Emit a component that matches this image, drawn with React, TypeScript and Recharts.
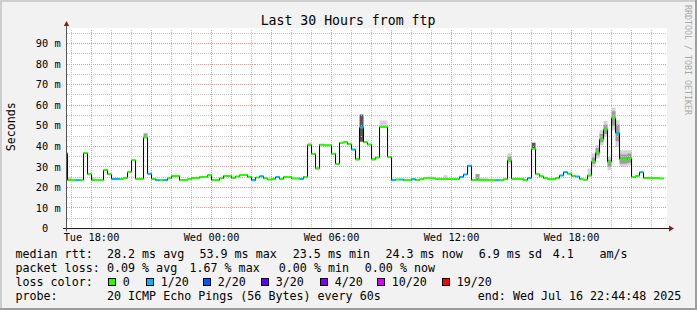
import React from 'react';
import { ComposedChart, Line, Area, XAxis, YAxis, ReferenceLine } from 'recharts';

const W = 697;
const H = 310;
const MONO = '"DejaVu Sans Mono", "Liberation Mono", monospace';

// ---- data: one sample every 12 minutes (0.2 h), hours since Tue 00:00 ----
const sampleStartHour = 16.6;
const sampleStepHours = 0.2;
const domainStart = 16.747;
const domainEnd = 46.747;

const medianMs = [
  36.6, 23.5, 23.5, 23.5, 23.5, 36.7, 26.4, 23.5, 23.5, 23.5,
  28.4, 26.4, 24.1, 24.1, 24.1, 24.6, 27.5, 33.2, 24.1, 24.1,
  44.3, 26.6, 24.1, 23.5, 23.5, 23.5, 24.4, 25.6, 25.6, 23.5,
  23.5, 24.0, 24.5, 24.5, 25.1, 25.1, 25.9, 23.5, 23.5, 24.4,
  25.6, 25.6, 24.6, 25.3, 26.0, 26.0, 25.1, 23.5, 24.8, 25.4,
  24.4, 23.8, 24.1, 25.0, 24.1, 25.1, 25.1, 24.3, 24.3, 24.1,
  25.1, 40.7, 36.3, 29.2, 40.8, 40.5, 40.5, 36.4, 31.4, 41.7,
  42.0, 41.0, 38.4, 33.7, 49.1, 42.0, 40.9, 33.7, 34.5, 49.4,
  49.4, 34.8, 23.5, 23.8, 23.8, 23.5, 23.5, 24.0, 23.5, 24.0,
  24.4, 24.4, 24.4, 24.1, 24.1, 24.1, 24.1, 24.1, 24.1, 25.1,
  26.3, 30.5, 23.5, 23.5, 23.5, 23.5, 23.5, 23.5, 23.5, 23.5,
  24.0, 33.2, 24.1, 24.1, 24.1, 23.5, 24.5, 38.7, 26.4, 25.4,
  24.5, 24.0, 24.0, 24.5, 25.8, 27.4, 26.6, 25.6, 25.3, 24.0,
  23.7, 25.8, 32.6, 36.8, 43.4, 48.2, 32.3, 53.8, 46.5, 33.7,
  33.7, 34.2, 25.0, 25.6, 27.4, 24.5, 24.5, 24.5, 24.5, 24.3,
];

// index into lossLabels / lossColors
const lossIdx = [
  1, 0, 0, 1, 0, 0, 0, 0, 0, 0,
  0, 0, 1, 1, 0, 0, 0, 0, 0, 0,
  0, 1, 0, 1, 0, 1, 0, 0, 0, 0,
  0, 0, 0, 0, 0, 0, 0, 0, 0, 0,
  0, 0, 0, 0, 0, 0, 0, 1, 0, 1,
  0, 0, 0, 1, 0, 0, 0, 0, 0, 1,
  0, 0, 0, 0, 0, 0, 0, 0, 0, 0,
  0, 0, 1, 0, 1, 0, 0, 0, 0, 0,
  0, 0, 1, 0, 1, 0, 0, 1, 0, 0,
  0, 0, 0, 0, 0, 0, 0, 0, 0, 1,
  1, 1, 0, 0, 0, 0, 0, 0, 1, 0,
  0, 0, 0, 0, 0, 0, 1, 0, 0, 0,
  0, 0, 0, 0, 1, 1, 0, 0, 1, 0,
  0, 0, 0, 0, 0, 0, 0, 0, 1, 0,
  0, 0, 0, 0, 1, 0, 0, 0, 0, 0,
];

const lossLabels = ['0', '1/20', '2/20', '3/20', '4/20', '10/20', '19/20'];
const lossColors = ['#26ff00', '#00b8ff', '#0059ff', '#5e00ff', '#7e00ff', '#dd00ff', '#ff0000'];

// visible "smoke" (ping spread) for samples where it shows
const smokeHours = [
  16.8, 18.0, 20.6, 28.8, 29.2, 31.2, 31.4, 32.0, 32.4, 32.6,
  35.6, 37.2, 37.4, 37.6, 38.8, 38.8, 40.0, 42.8, 43.0, 43.0,
  43.2, 43.2, 43.4, 43.4, 43.6, 43.6, 43.8, 43.8, 44.0, 44.0,
  44.2, 44.2, 44.4, 44.4, 44.6, 44.6, 44.8, 44.8,
];
const smokeLow = [
  23.5, 23.5, 44.0, 40.7, 28.6, 32.6, 42.2, 32.8, 49.4, 49.4,
  24.1, 23.5, 23.5, 23.5, 31.5, 32.3, 38.7, 25.0, 30.0, 31.5,
  34.0, 35.5, 40.5, 42.0, 44.6, 46.0, 28.4, 30.0, 47.8, 50.0,
  39.7, 42.5, 30.0, 31.5, 30.0, 31.5, 30.7, 32.0,
];
const smokeHigh = [
  24.9, 24.9, 46.3, 41.8, 29.8, 34.6, 55.5, 34.4, 52.5, 52.5,
  25.9, 26.5, 24.8, 24.8, 36.6, 35.0, 41.7, 29.2, 36.5, 34.5,
  40.5, 39.0, 47.8, 46.0, 52.3, 50.5, 34.8, 33.5, 58.9, 57.0,
  52.7, 50.5, 38.1, 36.0, 38.1, 36.0, 38.1, 36.5,
];
const smokeTone = [
  'light', 'light', 'mid', 'light', 'light', 'light', 'dark', 'light', 'light', 'light',
  'light', 'mid', 'light', 'light', 'light', 'mid', 'dark', 'light', 'light', 'mid',
  'light', 'mid', 'light', 'mid', 'light', 'mid', 'light', 'mid', 'light', 'mid',
  'light', 'mid', 'light', 'mid', 'light', 'mid', 'light', 'mid',
];
const tones = ['light', 'mid', 'dark'];
const toneColors: Record<string, string> = { light: '#d4d4d4', mid: '#9c9c9c', dark: '#565656' };

// axes / grid
const xTicks = [18, 24, 30, 36, 42];
const xTickLabels = ['Tue 18:00', 'Wed 00:00', 'Wed 06:00', 'Wed 12:00', 'Wed 18:00'];
const yTicks = [0, 10, 20, 30, 40, 50, 60, 70, 80, 90];
const minorHours = [17, 19, 20, 22, 23, 25, 26, 28, 29, 31, 32, 34, 35, 37, 38, 40, 41, 43, 44, 46];
const majorHours = [18, 21, 24, 27, 30, 33, 36, 39, 42, 45];
const minorMs = [5, 15, 25, 35, 45, 55, 65, 75, 85, 95];
const majorMs = [10, 20, 30, 40, 50, 60, 70, 80, 90];
const minorGridColor = '#c4c4c4';
const majorGridColor = '#eb9a9a';

// legend content
const titleText = 'Last 30 Hours from ftp';
const rttStats = ['28.2 ms avg', '53.9 ms max', '23.5 ms min', '24.3 ms now', '6.9 ms sd', '4.1', 'am/s'];
const lossStats = ['0.09 % avg', '1.67 % max', '0.00 % min', '0.00 % now'];
const probeText = '20 ICMP Echo Pings (56 Bytes) every 60s';
const endText = 'end: Wed Jul 16 22:44:48 2025';

// ---- table for the library ----
type Row = Record<string, any>;
const rows: Row[] = [];
medianMs.forEach((v, i) => {
  const t0 = +(sampleStartHour + i * sampleStepHours).toFixed(4);
  const t1 = +(t0 + sampleStepHours).toFixed(4);
  const base: Row = { med: v };
  lossColors.forEach((_, k) => {
    base['c' + k] = lossIdx[i] === k ? v : null;
  });
  tones.forEach((tone) => {
    const j = smokeHours.findIndex((h, jj) => Math.abs(h - t0) < 1e-6 && smokeTone[jj] === tone);
    base['s_' + tone] = j >= 0 ? [smokeLow[j], smokeHigh[j]] : null;
  });
  rows.push({ t: t0, ...base }, { t: t1, ...base });
  const gap: Row = { t: t1, med: v };
  lossColors.forEach((_, k) => {
    gap['c' + k] = null;
  });
  tones.forEach((tone) => {
    gap['s_' + tone] = null;
  });
  rows.push(gap);
});

const XTick = (props: any) => {
  const { x, payload } = props;
  const idx = xTicks.indexOf(payload.value);
  return (
    <text x={x} y={240.8} textAnchor="middle" fontFamily={MONO} fontSize={10.3} fill="#000">
      {idx >= 0 ? xTickLabels[idx] : ''}
    </text>
  );
};

const YTick = (props: any) => {
  const { y, payload } = props;
  const v = payload.value;
  const label = v === 0 ? '0' : `${v} m`;
  return (
    <text x={v === 0 ? 48.2 : 60.6} y={y + 3.7} textAnchor="end" fontFamily={MONO} fontSize={10.3} fill="#000">
      {label}
    </text>
  );
};

const LEG = 11.66;
const legendX1 = [107, 199.5, 292.8, 385.5, 478.8, 552.8, 599.5];
const legendX2 = [107, 189.5, 278.8, 364.8];
const boxX = [108.5, 146.5, 203.5, 261.5, 320.5, 377.5, 442.5];

const Backdrop = () => (
  <svg width={W} height={H} style={{ position: 'absolute', left: 0, top: 0 }}>
    <rect x={0} y={0} width={W} height={H} fill="#f2f2f2" />
    <rect x={0} y={0} width={W} height={2} fill="#cecece" />
    <rect x={0} y={0} width={2} height={H} fill="#cecece" />
    <rect x={0} y={H - 2} width={W} height={2} fill="#9e9e9e" />
    <rect x={W - 2} y={0} width={2} height={H} fill="#9e9e9e" />
    <rect x={66.5} y={28} width={600.5} height={200.5} fill="#ffffff" />
    <text x={348} y={24.6} textAnchor="middle" fontFamily={MONO} fontSize={13.2} fill="#000">
      {titleText}
    </text>
    <text x={15} y={126.7} textAnchor="middle" fontFamily={MONO} fontSize={LEG} fill="#000" transform="rotate(-90 15 126.7)">
      Seconds
    </text>
    <text x={685} y={5} fontFamily={MONO} fontSize={8.3} fill="#a8a8a8" transform="rotate(90 685 5)">
      RRDTOOL / TOBI OETIKER
    </text>
    {/* axis extensions and arrows */}
    <line x1={63} y1={228.5} x2={669} y2={228.5} stroke="#1f1f1f" strokeWidth={1} />
    <line x1={66.5} y1={231.5} x2={66.5} y2={25} stroke="#555" strokeWidth={1} />
    <polygon points="63.8,26 69.2,26 66.5,21" fill="#801f1f" />
    <polygon points="669,225.6 669,231.4 674,228.5" fill="#801f1f" />
    {/* legend */}
    <g fontFamily={MONO} fontSize={LEG} fill="#000" style={{ whiteSpace: 'pre' }}>
      <text x={15.5} y={258.3}>median rtt:</text>
      {rttStats.map((s, i) => (
        <text key={'r' + i} x={legendX1[i]} y={258.3}>{s}</text>
      ))}
      <text x={15.5} y={272.2}>packet loss:</text>
      {lossStats.map((s, i) => (
        <text key={'l' + i} x={legendX2[i]} y={272.2}>{s}</text>
      ))}
      <text x={15.5} y={286.1}>loss color:</text>
      {lossLabels.map((s, i) => (
        <g key={'b' + i}>
          <rect x={boxX[i]} y={278.5} width={7} height={7} fill={lossColors[i]} stroke="#000" strokeWidth={1} />
          <text x={boxX[i] + 14.3} y={286.1}>{s}</text>
        </g>
      ))}
      <text x={15.5} y={300}>probe:</text>
      <text x={107} y={300}>{probeText}</text>
      <text x={477.8} y={300}>{endText}</text>
    </g>
  </svg>
);

export default function App() {
  return (
    <div style={{ position: 'absolute', left: 0, top: 0, width: W, height: H, overflow: 'hidden' }}>
      <Backdrop />
      <div style={{ position: 'absolute', left: 0, top: 0 }}>
        <ComposedChart width={W} height={H} data={rows} margin={{ top: 28.5, right: 30.5, bottom: 0, left: 0 }}>
          <XAxis
            dataKey="t"
            type="number"
            domain={[domainStart, domainEnd]}
            allowDataOverflow
            ticks={xTicks}
            tick={<XTick />}
            tickLine={false}
            axisLine={{ stroke: '#1f1f1f' }}
            height={81.5}
            interval={0}
          />
          <YAxis
            type="number"
            domain={[0, 97.3]}
            allowDataOverflow
            ticks={yTicks}
            tick={<YTick />}
            tickLine={false}
            axisLine={{ stroke: '#555' }}
            width={66.5}
            interval={0}
          />
          {minorHours.map((h) => (
            <ReferenceLine key={'mh' + h} x={h} stroke={minorGridColor} strokeDasharray="1 1" shapeRendering="crispEdges" />
          ))}
          {minorMs.map((v) => (
            <ReferenceLine key={'mv' + v} y={v} stroke={minorGridColor} strokeDasharray="1 1" shapeRendering="crispEdges" />
          ))}
          {majorHours.map((h) => (
            <ReferenceLine key={'Mh' + h} x={h} stroke={majorGridColor} strokeDasharray="1 1" shapeRendering="crispEdges" />
          ))}
          {majorMs.map((v) => (
            <ReferenceLine key={'Mv' + v} y={v} stroke={majorGridColor} strokeDasharray="1 1" shapeRendering="crispEdges" />
          ))}
          {tones.map((tone) => (
            <Area
              key={'s' + tone}
              dataKey={(r: Row) => r['s_' + tone]}
              type="linear"
              stroke="none"
              fill={toneColors[tone]}
              fillOpacity={1}
              connectNulls={false}
              isAnimationActive={false}
              dot={false}
              activeDot={false}
            />
          ))}
          <Line
            dataKey="med"
            type="linear"
            stroke="#000"
            strokeWidth={1}
            dot={false}
            activeDot={false}
            isAnimationActive={false}
          />
          {lossColors.map((c, k) => (
            <Line
              key={'c' + k}
              dataKey={'c' + k}
              type="linear"
              stroke={c}
              strokeWidth={2}
              strokeLinecap="butt"
              connectNulls={false}
              dot={false}
              activeDot={false}
              isAnimationActive={false}
            />
          ))}
        </ComposedChart>
      </div>
    </div>
  );
}
